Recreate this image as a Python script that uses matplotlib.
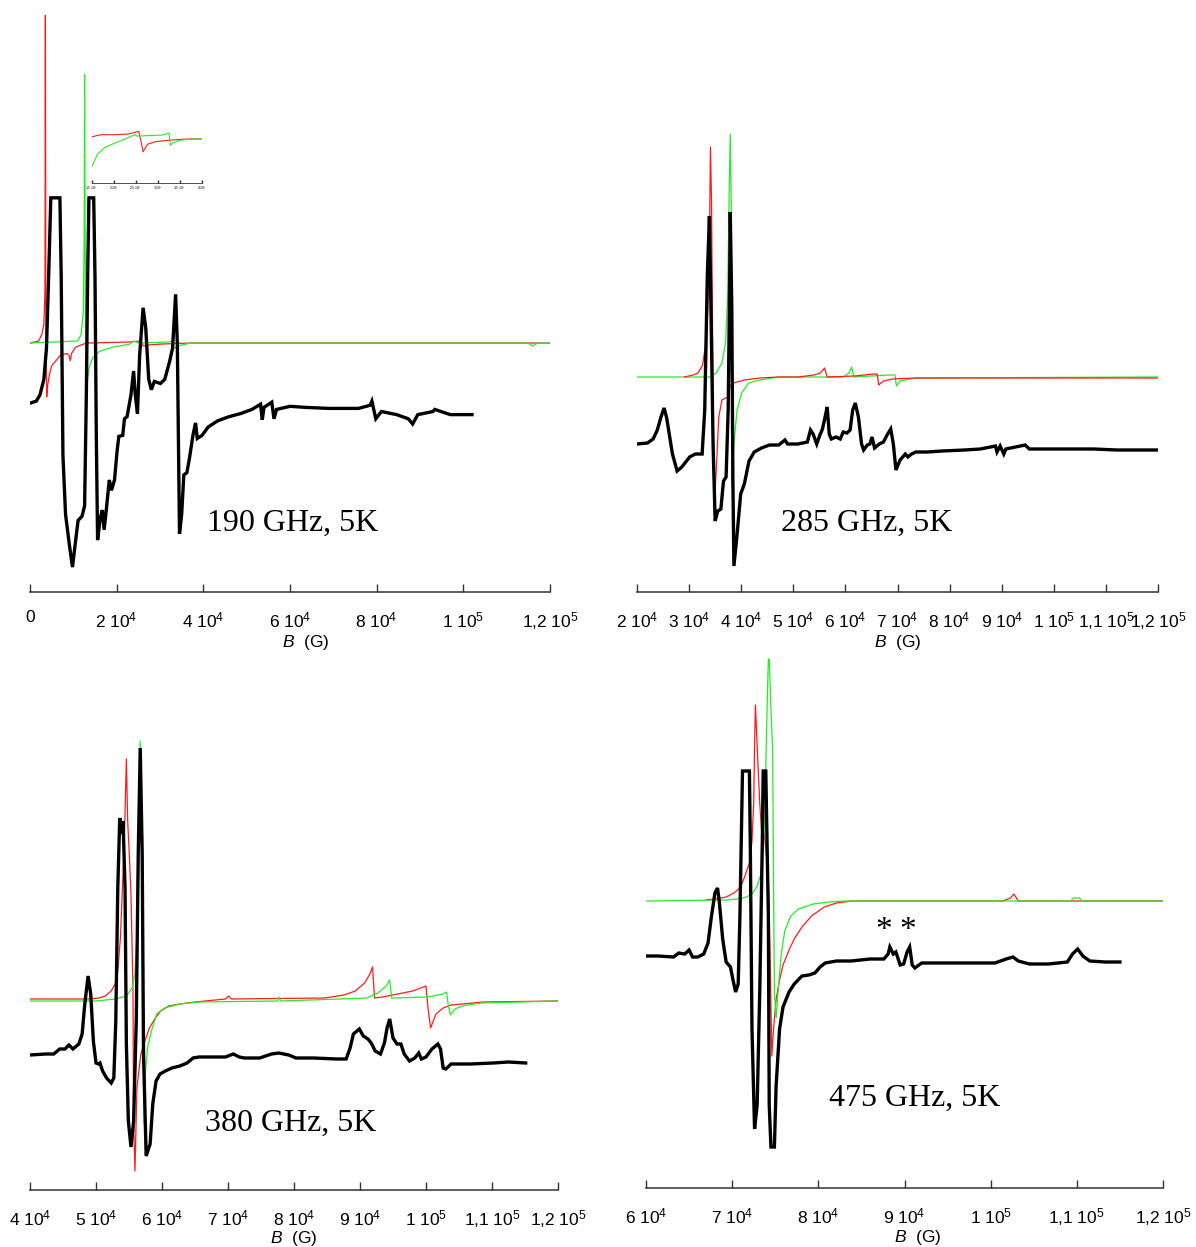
import numpy as np
import matplotlib.pyplot as plt

plt.rcParams['font.family'] = 'Liberation Sans'
plt.rcParams['mathtext.fontset'] = 'custom'
plt.rcParams['mathtext.rm'] = 'Liberation Sans'
plt.rcParams['mathtext.it'] = 'Liberation Sans:italic'

# ---------------- data : B in 10^4 G, intensity in a.u. ----------------
# 190 GHz
b190_exp = [0, 0.145, 0.23, 0.32, 0.38, 0.43, 0.48, 0.69, 0.72, 0.76, 0.82, 0.91, 0.98, 1.04, 1.11,
            1.20, 1.26, 1.30, 1.33, 1.36, 1.47, 1.50, 1.53, 1.56, 1.62, 1.67, 1.71, 1.76, 1.83, 1.88,
            1.95, 2.01, 2.05, 2.14, 2.18, 2.24, 2.33, 2.39, 2.43, 2.48, 2.53, 2.61, 2.67, 2.74, 2.80,
            2.87, 3.01, 3.11, 3.22, 3.29, 3.36, 3.40, 3.45, 3.50, 3.55, 3.62, 3.68, 3.76, 3.82, 3.86,
            3.97, 4.11, 4.33, 4.59, 4.86, 5.12, 5.32, 5.36, 5.40, 5.58, 5.63, 5.69, 6.00, 6.35, 6.88,
            7.58, 7.85, 7.89, 7.98, 8.11, 8.46, 8.73, 8.83, 8.95, 9.30, 9.34, 9.70, 10.20]
i190_exp = [-0.58, -0.56, -0.50, -0.35, -0.05, 0.64, 1.40, 1.40, 0.64, -1.08, -1.65, -1.95, -2.16, -1.95, -1.71,
            -1.67, -1.57, -0.50, 0.64, 1.40, 1.40, 0.64, -0.89, -1.90, -1.69, -1.61, -1.80, -1.61, -1.32, -1.42,
            -1.32, -1.04, -0.90, -0.89, -0.73, -0.71, -0.50, -0.27, -0.50, -0.68, -0.12, 0.34, 0.15, -0.35, -0.45,
            -0.37, -0.39, -0.35, -0.18, -0.05, 0.47, -0.01, -1.84, -1.65, -1.27, -1.25, -1.11, -0.89, -0.77, -0.92,
            -0.89, -0.81, -0.75, -0.71, -0.68, -0.64, -0.59, -0.74, -0.62, -0.57, -0.73, -0.64, -0.61, -0.62, -0.63,
            -0.63, -0.60, -0.56, -0.73, -0.66, -0.69, -0.73, -0.78, -0.69, -0.66, -0.64, -0.69, -0.69]
b190_red = [0, 0.20, 0.27, 0.32, 0.345, 0.355, 0.365, 0.385, 0.41, 0.45, 0.50, 0.58, 0.70, 0.85, 0.90,
            0.93, 0.96, 1.05, 1.30, 2.30, 2.55, 2.62, 2.70, 3.00, 3.67, 12.0]
i190_red = [0, 0.02, 0.08, 0.18, 0.5, 3.16, 0.3, -0.52, -0.40, -0.30, -0.22, -0.18, -0.12, -0.10, -0.12,
            -0.17, -0.10, -0.04, 0, 0.01, 0.02, -0.03, -0.02, -0.01, 0, 0]
b190_grn = [0, 1.10, 1.18, 1.23, 1.25, 1.26, 1.28, 1.31, 1.36, 1.45, 1.60, 1.90, 2.30, 2.40, 2.50,
            3.20, 3.28, 3.32, 3.40, 3.70, 11.5, 11.6, 11.7, 12.0]
i190_grn = [0, 0.02, 0.08, 0.30, 1.0, 2.59, 0.2, -0.43, -0.24, -0.14, -0.08, -0.04, -0.01, 0.02, 0.0,
            0.01, 0.02, -0.05, -0.03, 0, 0, -0.03, 0, 0]
# inset (zoom of 190 GHz simulations)
bins_red = [1.5, 1.70, 2.01, 2.33, 2.56, 2.62, 2.66, 2.76, 2.95, 3.27, 3.58, 4.02]
iins_red = [0.2, 0.4, 0.4, 0.47, 0.73, -0.37, -1.27, -0.53, -0.27, -0.13, -0.03, 0]
bins_grn = [1.5, 1.62, 1.78, 2.01, 2.25, 2.40, 2.47, 2.52, 3.10, 3.25, 3.28, 3.35, 3.51, 3.75, 4.02]
iins_grn = [-2.7, -1.53, -0.87, -0.43, -0.03, 0.27, 0.40, 0.27, 0.37, 0.57, -0.63, -0.37, -0.13, -0.03, 0]

# 285 GHz
b285_exp = [2.0, 2.20, 2.31, 2.39, 2.46, 2.52, 2.57, 2.68, 2.77, 2.86, 3.01, 3.12, 3.25, 3.30, 3.35,
            3.39, 3.42, 3.46, 3.50, 3.55, 3.61, 3.66, 3.71, 3.75, 3.78, 3.79, 3.82, 3.84, 3.86, 3.92,
            3.99, 4.06, 4.15, 4.25, 4.39, 4.54, 4.72, 4.84, 4.89, 5.09, 5.27, 5.33, 5.38, 5.45, 5.51,
            5.56, 5.61, 5.65, 5.69, 5.73, 5.82, 5.90, 5.96, 6.03, 6.09, 6.14, 6.19, 6.25, 6.31, 6.35,
            6.42, 6.47, 6.51, 6.56, 6.65, 6.73, 6.80, 6.87, 6.92, 6.97, 7.05, 7.15, 7.20, 7.27, 7.35,
            7.57, 7.86, 8.29, 8.59, 8.88, 8.91, 8.97, 9.04, 9.08, 9.45, 9.53, 10.19, 10.77, 11.21, 12.01]
i285_exp = [-0.67, -0.66, -0.62, -0.53, -0.40, -0.31, -0.41, -0.77, -0.94, -0.90, -0.80, -0.77, -0.77, -0.33, 1.02,
            1.61, 0.68, -0.67, -1.44, -1.34, -1.32, -1.04, -1.00, -0.33, 1.02, 1.65, 0.68, -1.00, -1.89, -1.58,
            -1.17, -1.07, -0.84, -0.75, -0.71, -0.68, -0.68, -0.63, -0.67, -0.67, -0.65, -0.53, -0.57, -0.67, -0.58,
            -0.52, -0.40, -0.30, -0.57, -0.62, -0.60, -0.62, -0.55, -0.56, -0.53, -0.33, -0.26, -0.40, -0.67, -0.73,
            -0.68, -0.67, -0.60, -0.71, -0.67, -0.65, -0.58, -0.52, -0.67, -0.93, -0.83, -0.77, -0.80, -0.77, -0.75,
            -0.75, -0.74, -0.73, -0.72, -0.69, -0.75, -0.69, -0.77, -0.72, -0.68, -0.72, -0.72, -0.72, -0.73, -0.73]
b285_red = [2.91, 3.08, 3.17, 3.26, 3.32, 3.36, 3.39, 3.41, 3.43, 3.45, 3.48, 3.52, 3.57, 3.63, 3.74,
            3.79, 3.85, 4.06, 4.36, 4.72, 5.09, 5.40, 5.52, 5.60, 5.65, 6.18, 6.54, 6.61, 6.64, 6.73,
            6.91, 7.35, 12.0]
i285_red = [0.0, 0.02, 0.04, 0.12, 0.34, 0.68, 1.35, 2.30, 1.76, 0.48, -1.32, -0.94, -0.40, -0.23, -0.20,
            -0.09, -0.06, -0.03, -0.01, 0, 0, 0.02, 0.04, 0.09, 0, 0.01, 0.03, 0.03, -0.08, -0.04,
            -0.02, -0.01, -0.01]
b285_grn = [2.0, 3.41, 3.52, 3.63, 3.70, 3.74, 3.77, 3.79, 3.81, 3.82, 3.86, 3.92, 4.01, 4.14, 4.36,
            4.72, 5.96, 6.07, 6.12, 6.16, 6.84, 6.95, 6.98, 7.05, 7.35, 12.0]
i285_grn = [0, 0, 0.04, 0.14, 0.34, 0.81, 1.86, 2.43, 1.69, -1.10, -0.67, -0.33, -0.16, -0.06, -0.03,
            0, 0, 0.04, 0.10, 0, 0.02, 0.02, -0.09, -0.04, -0.01, 0]

# 380 GHz
b380_exp = [4.0, 4.24, 4.36, 4.45, 4.53, 4.59, 4.65, 4.74, 4.79, 4.83, 4.88, 4.92, 4.96, 5.00, 5.04,
            5.06, 5.10, 5.16, 5.23, 5.27, 5.30, 5.33, 5.36, 5.39, 5.41, 5.44, 5.46, 5.49, 5.53, 5.57,
            5.61, 5.64, 5.67, 5.70, 5.72, 5.76, 5.82, 5.86, 5.91, 5.97, 6.05, 6.15, 6.27, 6.38, 6.47,
            6.56, 6.79, 6.96, 7.08, 7.17, 7.25, 7.48, 7.66, 7.77, 7.92, 8.03, 8.30, 8.64, 8.79, 8.85,
            8.90, 8.99, 9.05, 9.12, 9.17, 9.23, 9.31, 9.37, 9.41, 9.45, 9.50, 9.56, 9.62, 9.67, 9.75,
            9.83, 9.89, 9.93, 10.00, 10.09, 10.18, 10.22, 10.26, 10.30, 10.38, 10.67, 11.02, 11.25, 11.51]
i380_exp = [-0.54, -0.53, -0.53, -0.48, -0.48, -0.44, -0.48, -0.43, -0.33, -0.03, 0.25, 0.07, -0.40, -0.62, -0.63,
            -0.62, -0.70, -0.77, -0.82, -0.77, -0.20, 1.13, 1.83, 1.67, 1.80, 1.13, -0.43, -1.20, -1.46, -1.20,
            -0.20, 1.47, 2.53, 1.47, -0.53, -1.55, -1.43, -1.03, -0.80, -0.73, -0.70, -0.67, -0.65, -0.62, -0.57,
            -0.56, -0.56, -0.56, -0.53, -0.56, -0.57, -0.57, -0.53, -0.52, -0.54, -0.57, -0.57, -0.58, -0.58, -0.47,
            -0.33, -0.28, -0.35, -0.38, -0.42, -0.50, -0.53, -0.42, -0.27, -0.18, -0.37, -0.43, -0.43, -0.53, -0.60,
            -0.57, -0.52, -0.58, -0.56, -0.48, -0.43, -0.48, -0.67, -0.68, -0.63, -0.63, -0.62, -0.61, -0.62]
b380_red = [4.0, 4.88, 5.05, 5.14, 5.23, 5.29, 5.33, 5.37, 5.40, 5.43, 5.46, 5.48, 5.50, 5.53, 5.56,
            5.57, 5.59, 5.62, 5.68, 5.74, 5.81, 5.89, 5.98, 6.10, 6.27, 6.50, 6.96, 7.01, 7.05, 8.47,
            8.76, 8.93, 9.07, 9.15, 9.19, 9.22, 9.34, 9.57, 9.80, 10.00, 10.03, 10.07, 10.15, 10.26, 10.38,
            10.55, 10.87, 12.0]
i380_red = [0.02, 0.02, 0.03, 0.05, 0.10, 0.17, 0.30, 0.63, 1.13, 1.63, 2.42, 1.80, 1.53, 1.07, 0.13,
            -1.20, -1.70, -0.87, -0.53, -0.40, -0.27, -0.18, -0.10, -0.05, -0.03, -0.01, 0.02, 0.05, 0.02, 0.03,
            0.06, 0.10, 0.18, 0.27, 0.34, 0.03, 0.04, 0.07, 0.10, 0.15, -0.07, -0.27, -0.13, -0.07, -0.04,
            -0.03, -0.01, 0]
b380_grn = [4.0, 5.0, 5.29, 5.46, 5.55, 5.59, 5.62, 5.65, 5.67, 5.69, 5.71, 5.73, 5.75, 5.78, 5.84,
            5.92, 6.04, 6.27, 6.56, 7.75, 7.77, 7.80, 8.70, 9.10, 9.27, 9.40, 9.45, 9.48, 9.51, 10.03,
            10.26, 10.31, 10.34, 10.37, 10.44, 10.55, 10.84, 12.0]
i380_grn = [0, 0, 0.02, 0.05, 0.13, 0.27, 0.63, 1.47, 2.60, 1.97, 0.47, -1.23, -0.70, -0.47, -0.30,
            -0.13, -0.07, -0.03, -0.01, 0.0, 0.04, 0.0, 0.02, 0.03, 0.08, 0.15, 0.21, 0.03, 0.03, 0.04,
            0.07, 0.09, -0.05, -0.14, -0.08, -0.05, -0.02, 0]

# 475 GHz
b475_exp = [6.0, 6.14, 6.32, 6.38, 6.45, 6.50, 6.54, 6.60, 6.67, 6.72, 6.76, 6.80, 6.83, 6.85, 6.89,
            6.93, 6.98, 7.01, 7.04, 7.07, 7.09, 7.12, 7.20, 7.21, 7.23, 7.26, 7.29, 7.32, 7.35, 7.36,
            7.39, 7.42, 7.43, 7.45, 7.49, 7.51, 7.55, 7.59, 7.66, 7.72, 7.81, 7.89, 7.96, 8.02, 8.08,
            8.21, 8.38, 8.60, 8.76, 8.81, 8.83, 8.87, 8.90, 8.95, 8.99, 9.03, 9.06, 9.09, 9.12, 9.20,
            9.44, 9.79, 10.05, 10.18, 10.26, 10.32, 10.45, 10.67, 10.89, 10.95, 11.01, 11.07, 11.15, 11.33, 11.50]
i475_exp = [-0.55, -0.55, -0.56, -0.52, -0.53, -0.49, -0.56, -0.56, -0.53, -0.42, -0.15, 0.08, 0.13, 0.0, -0.38,
            -0.61, -0.66, -0.79, -0.91, -0.83, -0.15, 1.30, 1.30, 0.60, -1.28, -2.28, -2.04, -0.91, 0.60, 1.30,
            1.30, -0.15, -2.04, -2.46, -2.46, -1.85, -1.28, -1.06, -0.91, -0.83, -0.75, -0.74, -0.72, -0.66, -0.62,
            -0.60, -0.60, -0.58, -0.58, -0.53, -0.46, -0.53, -0.51, -0.64, -0.63, -0.51, -0.46, -0.64, -0.67, -0.62,
            -0.62, -0.62, -0.62, -0.58, -0.56, -0.60, -0.63, -0.63, -0.61, -0.53, -0.48, -0.55, -0.60, -0.61, -0.61]
b475_red = [6.69, 6.80, 6.93, 7.02, 7.09, 7.14, 7.20, 7.23, 7.25, 7.26, 7.27, 7.29, 7.32, 7.34, 7.37,
            7.39, 7.42, 7.44, 7.46, 7.48, 7.51, 7.55, 7.59, 7.66, 7.72, 7.81, 7.92, 8.07, 8.21, 8.39,
            10.14, 10.23, 10.27, 10.32, 12.0]
i475_red = [0.01, 0.02, 0.04, 0.08, 0.13, 0.23, 0.38, 0.60, 0.98, 1.55, 1.96, 1.55, 0.98, 0.72, 0.68,
            0.53, 0.23, -0.53, -1.55, -1.28, -0.98, -0.79, -0.64, -0.49, -0.38, -0.26, -0.15, -0.06, -0.02, 0,
            0, 0.03, 0.07, 0, 0]
b475_grn = [6.0, 6.93, 7.06, 7.17, 7.24, 7.29, 7.33, 7.36, 7.38, 7.40, 7.42, 7.43, 7.45, 7.47, 7.48,
            7.49, 7.51, 7.54, 7.57, 7.61, 7.68, 7.77, 7.94, 8.12, 8.29, 10.93, 10.96, 11.03, 11.06, 12.0]
i475_grn = [0, 0.01, 0.02, 0.04, 0.08, 0.15, 0.26, 0.49, 0.91, 1.74, 2.42, 2.42, 1.92, 1.51, 0.23,
            -0.91, -1.17, -0.83, -0.53, -0.30, -0.15, -0.08, -0.03, -0.01, 0, 0, 0.03, 0.03, 0, 0]

# tick labels
ticks190 = [0, 2, 4, 6, 8, 10, 12]
labels190 = ['0', '2 10$^4$', '4 10$^4$', '6 10$^4$', '8 10$^4$', '1 10$^5$', '1,2 10$^5$']
ticks285 = [2, 3, 4, 5, 6, 7, 8, 9, 10, 11, 12]
labels285 = ['2 10$^4$', '3 10$^4$', '4 10$^4$', '5 10$^4$', '6 10$^4$', '7 10$^4$', '8 10$^4$',
             '9 10$^4$', '1 10$^5$', '1,1 10$^5$', '1,2 10$^5$']
ticks380 = [4, 5, 6, 7, 8, 9, 10, 11, 12]
labels380 = labels285[2:]
ticks475 = [6, 7, 8, 9, 10, 11, 12]
labels475 = labels285[4:]
ticks_ins = [1.5, 2, 2.5, 3, 3.5, 4]
labels_ins = ['1,5 10$^4$', '2 10$^4$', '2,5 10$^4$', '3 10$^4$', '3,5 10$^4$', '4 10$^4$']

RED = '#ff1a1a'
GREEN = '#22ee22'

W, H = 1196, 1247
fig = plt.figure(figsize=(W / 100, H / 100), dpi=100)


def panel(x0, x1, ybot, ytop):
    return fig.add_axes([x0 / W, 1 - ybot / H, (x1 - x0) / W, (ybot - ytop) / H])


def style(ax, ticks, labels, xmin, xmax, ymin, ymax, fs=12.5, tl=6, pad=13):
    ax.set_xlim(xmin * 1e4, xmax * 1e4)
    ax.set_ylim(ymin, ymax)
    for s in ['left', 'right', 'top']:
        ax.spines[s].set_visible(False)
    ax.spines['bottom'].set_color('#333333')
    ax.spines['bottom'].set_linewidth(1.1)
    ax.set_yticks([])
    ax.set_xticks(np.array(ticks) * 1e4)
    ax.set_xticklabels(labels, fontsize=fs)
    ax.tick_params(axis='x', direction='in', length=tl, width=1, color='#333333', pad=pad)
    ax.patch.set_alpha(0)


def draw(ax, b_exp, i_exp, b_red, i_red, b_grn, i_grn, red_on_top=False):
    zr = 3 if red_on_top else 2
    ax.plot(np.array(b_red) * 1e4, i_red, color=RED, lw=0.9, zorder=zr)
    ax.plot(np.array(b_grn) * 1e4, i_grn, color=GREEN, lw=0.9, zorder=2.5)
    ax.plot(np.array(b_exp) * 1e4, i_exp, color='black', lw=2.4, zorder=4,
            solid_joinstyle='miter')


# 190 GHz
ax1 = panel(30, 550, 592, 8)
draw(ax1, b190_exp, i190_exp, b190_red, i190_red, b190_grn, i190_grn)
style(ax1, ticks190, labels190, 0, 12, -2.40, 3.23)
ax1.set_xlabel('$B$  (G)', fontsize=12.5)
ax1.xaxis.set_label_coords(0.53, -0.071)

axi = panel(92, 202, 183, 118)
axi.plot(np.array(bins_red) * 1e4, iins_red, color=RED, lw=0.8)
axi.plot(np.array(bins_grn) * 1e4, iins_grn, color=GREEN, lw=0.8)
style(axi, ticks_ins, labels_ins, 1.5, 4.0, -4.3, 2.03, fs=2.5, tl=2, pad=1)
axi.spines['bottom'].set_linewidth(0.6)

# 285 GHz
ax2 = panel(637, 1158, 592, 10)
draw(ax2, b285_exp, i285_exp, b285_red, i285_red, b285_grn, i285_grn, red_on_top=True)
style(ax2, ticks285, labels285, 2, 12, -2.15, 3.67)
ax2.set_xlabel('$B$  (G)', fontsize=12.5)
ax2.xaxis.set_label_coords(0.5, -0.071)

# 380 GHz
ax3 = panel(30, 558, 1190, 660)
draw(ax3, b380_exp, i380_exp, b380_red, i380_red, b380_grn, i380_grn)
style(ax3, ticks380, labels380, 4, 12, -1.89, 3.41)
ax3.set_xlabel('$B$  (G)', fontsize=12.5)
ax3.xaxis.set_label_coords(0.5, -0.074)

# 475 GHz
ax4 = panel(646, 1163, 1188, 650)
draw(ax4, b475_exp, i475_exp, b475_red, i475_red, b475_grn, i475_grn)
style(ax4, ticks475, labels475, 6, 12, -2.87, 2.51)
ax4.set_xlabel('$B$  (G)', fontsize=12.5)
ax4.xaxis.set_label_coords(0.526, -0.075)

# annotations
serif = 'Liberation Serif'
fig.text(207 / W, 1 - 531 / H, '190 GHz, 5K', family=serif, fontsize=23, va='baseline')
fig.text(781 / W, 1 - 531 / H, '285 GHz, 5K', family=serif, fontsize=23, va='baseline')
fig.text(205 / W, 1 - 1131 / H, '380 GHz, 5K', family=serif, fontsize=23, va='baseline')
fig.text(829 / W, 1 - 1106 / H, '475 GHz, 5K', family=serif, fontsize=23, va='baseline')
fig.text(884 / W, 1 - 939 / H, '*', family=serif, fontsize=24, va='baseline', ha='center')
fig.text(908 / W, 1 - 939 / H, '*', family=serif, fontsize=24, va='baseline', ha='center')

fig.savefig('out.png', dpi=100)
